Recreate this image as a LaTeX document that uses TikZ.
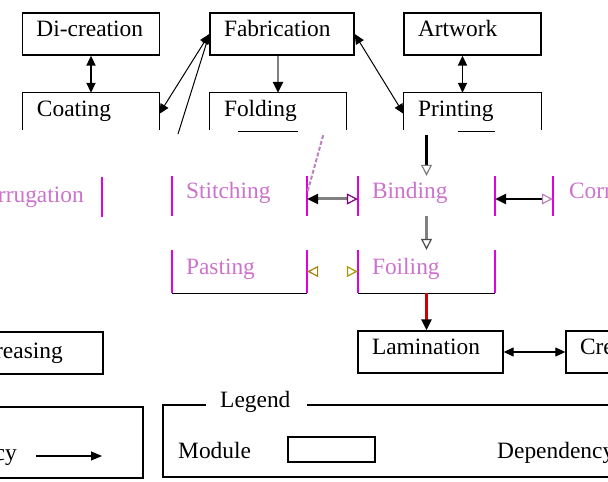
\documentclass[tikz,border=0pt]{standalone}
\usepackage{fontspec}
\setmainfont{Liberation Serif}
\usetikzlibrary{arrows.meta,calc}
\definecolor{pinktxt}{RGB}{205,115,205}
\definecolor{magline}{RGB}{225,0,225}
\definecolor{dashpink}{RGB}{190,130,190}
\begin{document}
\begin{tikzpicture}[x=1bp,y=-1bp,
  font=\fontsize{23.5}{28}\selectfont,
  >={Triangle[length=10bp,width=9bp]},
  box/.style={draw,line width=1.3bp,minimum height=42bp,inner xsep=14bp,inner ysep=0pt,align=left,text height=0.75em,text depth=0.15em},
  openbox/.style={minimum height=42bp,inner xsep=14bp,inner ysep=0pt,align=left,text height=0.75em,text depth=0.15em},
  midbox/.style={text=pinktxt,minimum height=40bp,inner xsep=14bp,inner ysep=0pt,align=left,text height=0.75em,text depth=0.15em},
  sideline/.style={magline,line width=1.6bp},
  txt/.style={inner sep=0pt},
  hollowtip/.style={},
]
\fill[white] (0,0) rectangle (608,482);
\useasboundingbox (0,0) rectangle (608,482);
\clip (0,0) rectangle (608,482);

% ---- top row
\node[box,text width=109bp] (dicre) at (91,34) {Di-creation};
\node[box,text width=116bp] (fab) at (282,34) {Fabrication};
\node[box,text width=109bp] (art) at (472.5,34) {Artwork};

% ---- second row (cut at the bottom)
\node[openbox,text width=108bp] (coat) at (91,114) {Coating};
\node[openbox,text width=108bp] (fold) at (278,114) {Folding};
\node[openbox,text width=109bp] (print) at (472.5,114) {Printing};
\foreach \n in {coat,fold,print}{
  \draw[line width=1.3bp] ([yshift=5bp]\n.south west) -- (\n.north west) -- (\n.north east) -- ([yshift=5bp]\n.south east);
}
\draw[line width=1.2bp] ($(fold.south west)+(28,-4)$) -- ($(fold.south west)+(88,-4)$);
\draw[line width=1.2bp] ($(print.south west)+(54,-4)$) -- ($(print.south west)+(91,-4)$);

% ---- middle band
\node[midbox,text width=107bp] (stitch) at (239.5,196) {Stitching};
\node[midbox,text width=109bp] (bind) at (426.5,196) {Binding};
\node[midbox,text width=125bp,inner xsep=16bp] (corrR) at (631.5,196) {Corrugation};
\node[txt,text=pinktxt,anchor=base east] (corrL) at (84,203) {Corrugation};
\coordinate (corrLt) at (102,177);
\coordinate (corrLb) at (102,217);
\draw[sideline] (corrLt) -- (corrLb);
\foreach \n in {stitch,bind,corrR}{
  \draw[sideline] (\n.north west) -- (\n.south west) (\n.north east) -- (\n.south east);
}

\node[midbox,text width=107bp,minimum height=43bp] (paste) at (239.5,271.5) {Pasting};
\node[midbox,text width=109bp,minimum height=43bp] (foil) at (426.5,271.5) {Foiling};
\foreach \n in {paste,foil}{
  \draw[sideline] (\n.north west) -- (\n.south west) (\n.north east) -- (\n.south east);
  \draw[line width=1.3bp] (\n.south west) -- (\n.south east);
}

% ---- bottom row
\node[box,text width=117bp] (lam) at (430.5,352) {Lamination};
\node[box,text width=117bp] (creR) at (638.5,352) {Creasing};
\node[txt,anchor=base east] (creL) at (63,358) {Creasing};
\draw[line width=1.3bp] (-10,332) -- (103,332) -- (103,374) -- (-10,374);

% ---- connectors
\draw[line width=1.8bp,<->] (dicre.south) -- (coat.north);
\draw[gray,line width=2.8bp,-{Triangle[length=11bp,width=10bp,color=black]}] (fab.south -| fold.north) -- (fold.north);
\draw[line width=1.8bp,<->] ([xshift=-10bp]art.south) -- ([xshift=-10bp]print.north);
\draw[line width=1bp,<->] (coat.east) -- (fab.west);
\coordinate (fabdown) at (178,134);
\draw[line width=1bp,<-] (fab.west) -- (fabdown);
\draw[line width=1bp,<->] (fab.east) -- (print.west);

\draw[line width=2.2bp,-{Triangle[open,length=11bp,width=11bp,color=gray,line width=1.2bp]}] (print.south -| bind.north) -- (bind.north);
\draw[dashpink,dash pattern=on 4bp off 2bp,line width=2bp] ($(fold.south east)+(-23,0)$) -- ([yshift=3bp]stitch.east);
\draw[gray,line width=3bp,{Triangle[length=11bp,width=10bp,color=black]}-{Triangle[open,length=11bp,width=11bp,color=violet,line width=1.2bp]}] ([yshift=-3bp]stitch.east) -- ([yshift=-3bp]bind.west);
\draw[line width=2.4bp,{Triangle[length=11bp,width=10bp,color=black]}-{Triangle[open,length=11bp,width=11bp,color=dashpink,line width=1.2bp]}] ([yshift=-3bp]bind.east) -- ([yshift=-3bp]corrR.west);
\draw[gray,line width=2.4bp,-{Triangle[open,length=11bp,width=11bp,color=black!70,line width=1.2bp]}] (bind.south) -- (foil.north);
\draw[white,line width=1bp,{Triangle[open,length=11bp,width=11bp,color=olive!80!red,line width=1.2bp]}-{Triangle[open,length=11bp,width=11bp,color=olive!80!yellow,line width=1.2bp]}] (paste.east) -- (foil.west);
\draw[red!80!black,line width=2.4bp,-{Triangle[length=11bp,width=10bp,color=black]}] (foil.south) -- (lam.north -| foil.south);
\draw[line width=1.2bp,<->] (lam.east) -- (creR.west);

% ---- legend
\node[txt,anchor=base west] (legtitle) at (220,407) {Legend};
\draw[line width=1.2bp] (206,405) -- (163,405) -- (163,477) -- (608,477);
\draw[line width=1.2bp] (307,405) -- (608,405);
\node[txt,anchor=base west] (modlbl) at (178,458) {Module};
\node[draw,line width=1.8bp,minimum width=87bp,minimum height=25bp,inner sep=0pt] (modrect) at (331.5,449.5) {};
\node[txt,anchor=base west] (depR) at (497,458) {Dependency};

\draw[line width=2.4bp] (-10,407) -- (143,407) -- (143,478) -- (-10,478);
\node[txt,anchor=base east] (depL) at (17,460) {Dependency};
\coordinate (arrS) at (36,456);
\coordinate (arrE) at (102,456);
\draw[line width=1.2bp,-{Triangle[length=11bp,width=9bp]}] (arrS) -- (arrE);
\end{tikzpicture}
\end{document}
